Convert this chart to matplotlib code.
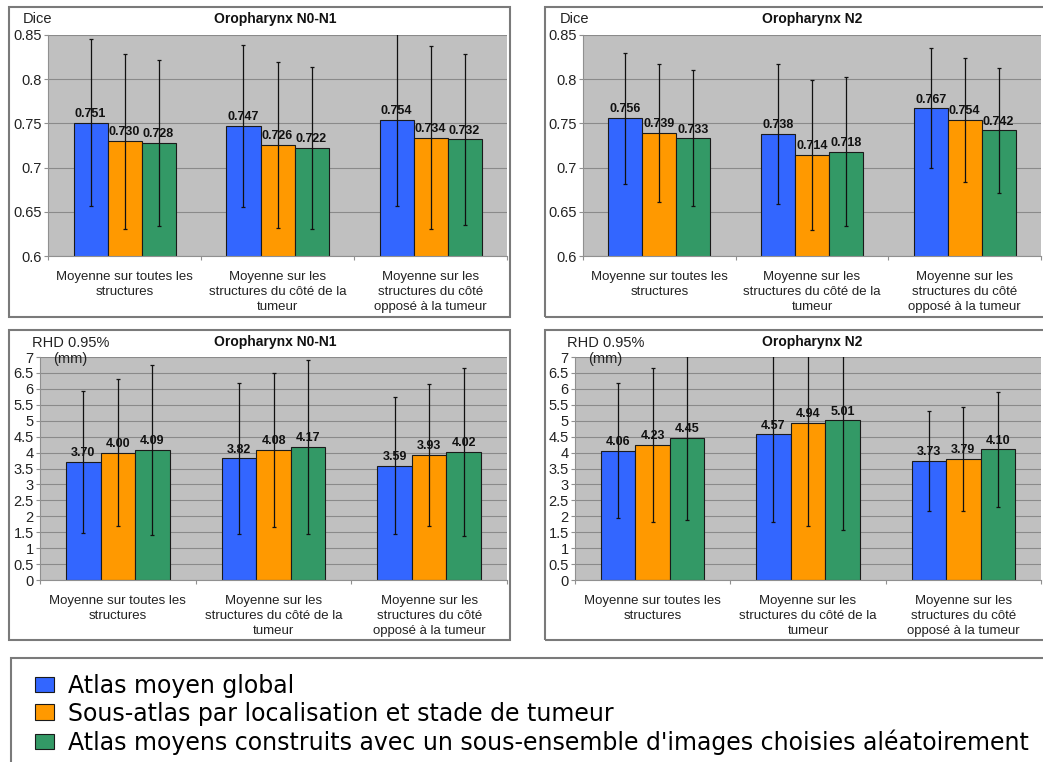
import matplotlib
matplotlib.use('Agg')
import matplotlib.pyplot as plt
from matplotlib.patches import Rectangle, Patch
import numpy as np

W, H = 1043, 762

categories = ["Moyenne sur toutes les\nstructures",
              "Moyenne sur les\nstructures du côté de la\ntumeur",
              "Moyenne sur les\nstructures du côté\nopposé à la tumeur"]
series_names = ["Atlas moyen global",
                "Sous-atlas par localisation et stade de tumeur",
                "Atlas moyens construits avec un sous-ensemble d'images choisies aléatoirement"]
colors = ['#3366FF', '#FF9900', '#339966']

# values[series][category]
dice_n01 = [[0.751, 0.747, 0.754], [0.730, 0.726, 0.734], [0.728, 0.722, 0.732]]
dice_n01_err = [[0.095, 0.092, 0.098], [0.099, 0.094, 0.103], [0.094, 0.092, 0.097]]
dice_n2 = [[0.756, 0.738, 0.767], [0.739, 0.714, 0.754], [0.733, 0.718, 0.742]]
dice_n2_err = [[0.074, 0.079, 0.068], [0.078, 0.085, 0.070], [0.077, 0.084, 0.071]]
rhd_n01 = [[3.70, 3.82, 3.59], [4.00, 4.08, 3.93], [4.09, 4.17, 4.02]]
rhd_n01_err = [[2.24, 2.37, 2.15], [2.31, 2.43, 2.23], [2.67, 2.73, 2.64]]
rhd_n2 = [[4.06, 4.57, 3.73], [4.23, 4.94, 3.79], [4.45, 5.01, 4.10]]
rhd_n2_err = [[2.11, 2.74, 1.57], [2.41, 3.23, 1.63], [2.57, 3.44, 1.80]]

dice_ticks = [0.6, 0.65, 0.7, 0.75, 0.8, 0.85]
rhd_ticks = [0, 0.5, 1, 1.5, 2, 2.5, 3, 3.5, 4, 4.5, 5, 5.5, 6, 6.5, 7]

FONT = ['Liberation Sans', 'DejaVu Sans']
plt.rcParams['font.family'] = FONT

TICK_FS = 10.5
CAT_FS = 9.5
TITLE_FS = 10
VAL_FS = 9
TXT = '#222222'

fig = plt.figure(figsize=(W / 100, H / 100), dpi=100)
fig.patch.set_facecolor('white')


def fx(x):
    return x / W


def fy(y):
    return 1 - y / H


def axes_px(x0, y0, x1, y1):
    return fig.add_axes([fx(x0), fy(y1), fx(x1) - fx(x0), fy(y0) - fy(y1)])


def box_px(x0, y0, x1, y1, lw=1.5):
    fig.add_artist(Rectangle((fx(x0), fy(y1)), fx(x1) - fx(x0), fy(y0) - fy(y1),
                             transform=fig.transFigure, fill=False,
                             edgecolor='#7a7a7a', lw=lw, zorder=0))


def panel(rect, vals, errs, ticks, fmt, title, ylab, ylab_xy, title_x, title_y, ylab2=None):
    ax = axes_px(*rect)
    ax.set_facecolor('#C0C0C0')
    n = len(categories)
    w = 1 / 4.5
    x = np.arange(n) + 0.5
    for i, (v, e) in enumerate(zip(vals, errs)):
        xi = x + (i - 1) * w
        bars = ax.bar(xi, v, width=w, color=colors[i], edgecolor='#1a1a1a', lw=0.8, zorder=2)
        ax.bar_label(bars, labels=[fmt.format(t) for t in v], padding=2,
                     fontsize=VAL_FS, fontweight='bold', color='#111111', zorder=4)
        ax.errorbar(xi, v, yerr=e, fmt='none', ecolor='#111111', elinewidth=0.9,
                    capsize=1.5, capthick=0.9, zorder=3)
    ax.set_xlim(0, n)
    ax.set_ylim(ticks[0], ticks[-1])
    ax.set_yticks(ticks)
    ax.set_yticklabels([f"{t:g}" for t in ticks])
    ax.set_xticks(np.arange(n + 1))
    ax.set_xticklabels([])
    ax.set_xticks(x, categories, minor=True)
    for lab in ax.get_xticklabels(minor=True):
        lab.set_linespacing(1.3)
    ax.tick_params(axis='x', which='major', length=3, color='#909090', direction='out')
    ax.tick_params(axis='x', which='minor', length=0, pad=11, labelsize=CAT_FS, labelcolor=TXT)
    ax.tick_params(axis='y', length=3, color='#909090', labelsize=TICK_FS, pad=1.5, labelcolor=TXT)
    ax.yaxis.grid(True, color='#8a8a8a', lw=0.8)
    ax.set_axisbelow(True)
    for s in ['top', 'right']:
        ax.spines[s].set_visible(False)
    for s in ['left', 'bottom']:
        ax.spines[s].set_color('#909090')
        ax.spines[s].set_linewidth(0.8)
    fig.text(fx(title_x), fy(title_y), title, ha='center', va='center',
             fontsize=TITLE_FS, fontweight='bold', color='#111111')
    fig.text(fx(ylab_xy[0]), fy(ylab_xy[1]), ylab, ha='left', va='center',
             fontsize=TICK_FS, color=TXT)
    if ylab2 is not None:
        fig.text(fx(ylab2[1][0]), fy(ylab2[1][1]), ylab2[0], ha='left', va='center',
                 fontsize=TICK_FS, color=TXT, zorder=10)
    return ax


# panel boxes
box_px(9, 7, 510, 317)
box_px(545, 7, 1046, 317)
box_px(9, 330, 510, 640)
box_px(545, 330, 1046, 640)

panel((48, 35, 507, 256), dice_n01, dice_n01_err, dice_ticks, "{:.3f}",
      "Oropharynx N0-N1", "Dice", (23, 19), 275, 19)
panel((583, 35, 1041, 256), dice_n2, dice_n2_err, dice_ticks, "{:.3f}",
      "Oropharynx N2", "Dice", (560, 19), 812, 19)
panel((40, 357, 507, 580), rhd_n01, rhd_n01_err, rhd_ticks, "{:.2f}",
      "Oropharynx N0-N1", "RHD 0.95%", (32, 343), 275, 342, ("(mm)", (53, 359)))
panel((575, 357, 1041, 580), rhd_n2, rhd_n2_err, rhd_ticks, "{:.2f}",
      "Oropharynx N2", "RHD 0.95%", (567, 343), 812, 342, ("(mm)", (588, 359)))

# legend box
box_px(11, 658, 1050, 770, lw=1.5)
handles = [Patch(facecolor=c, edgecolor='#1a1a1a', lw=0.8) for c in colors]
fig.legend(handles, series_names, loc='upper left',
           bbox_to_anchor=(fx(30), fy(669)), frameon=False,
           prop={'family': ['DejaVu Sans'], 'size': 17},
           handlelength=0.8, handleheight=0.64, handletextpad=0.6,
           labelspacing=0.16, borderpad=0.2, borderaxespad=0)

fig.savefig('out.png', dpi=100, facecolor='white')
